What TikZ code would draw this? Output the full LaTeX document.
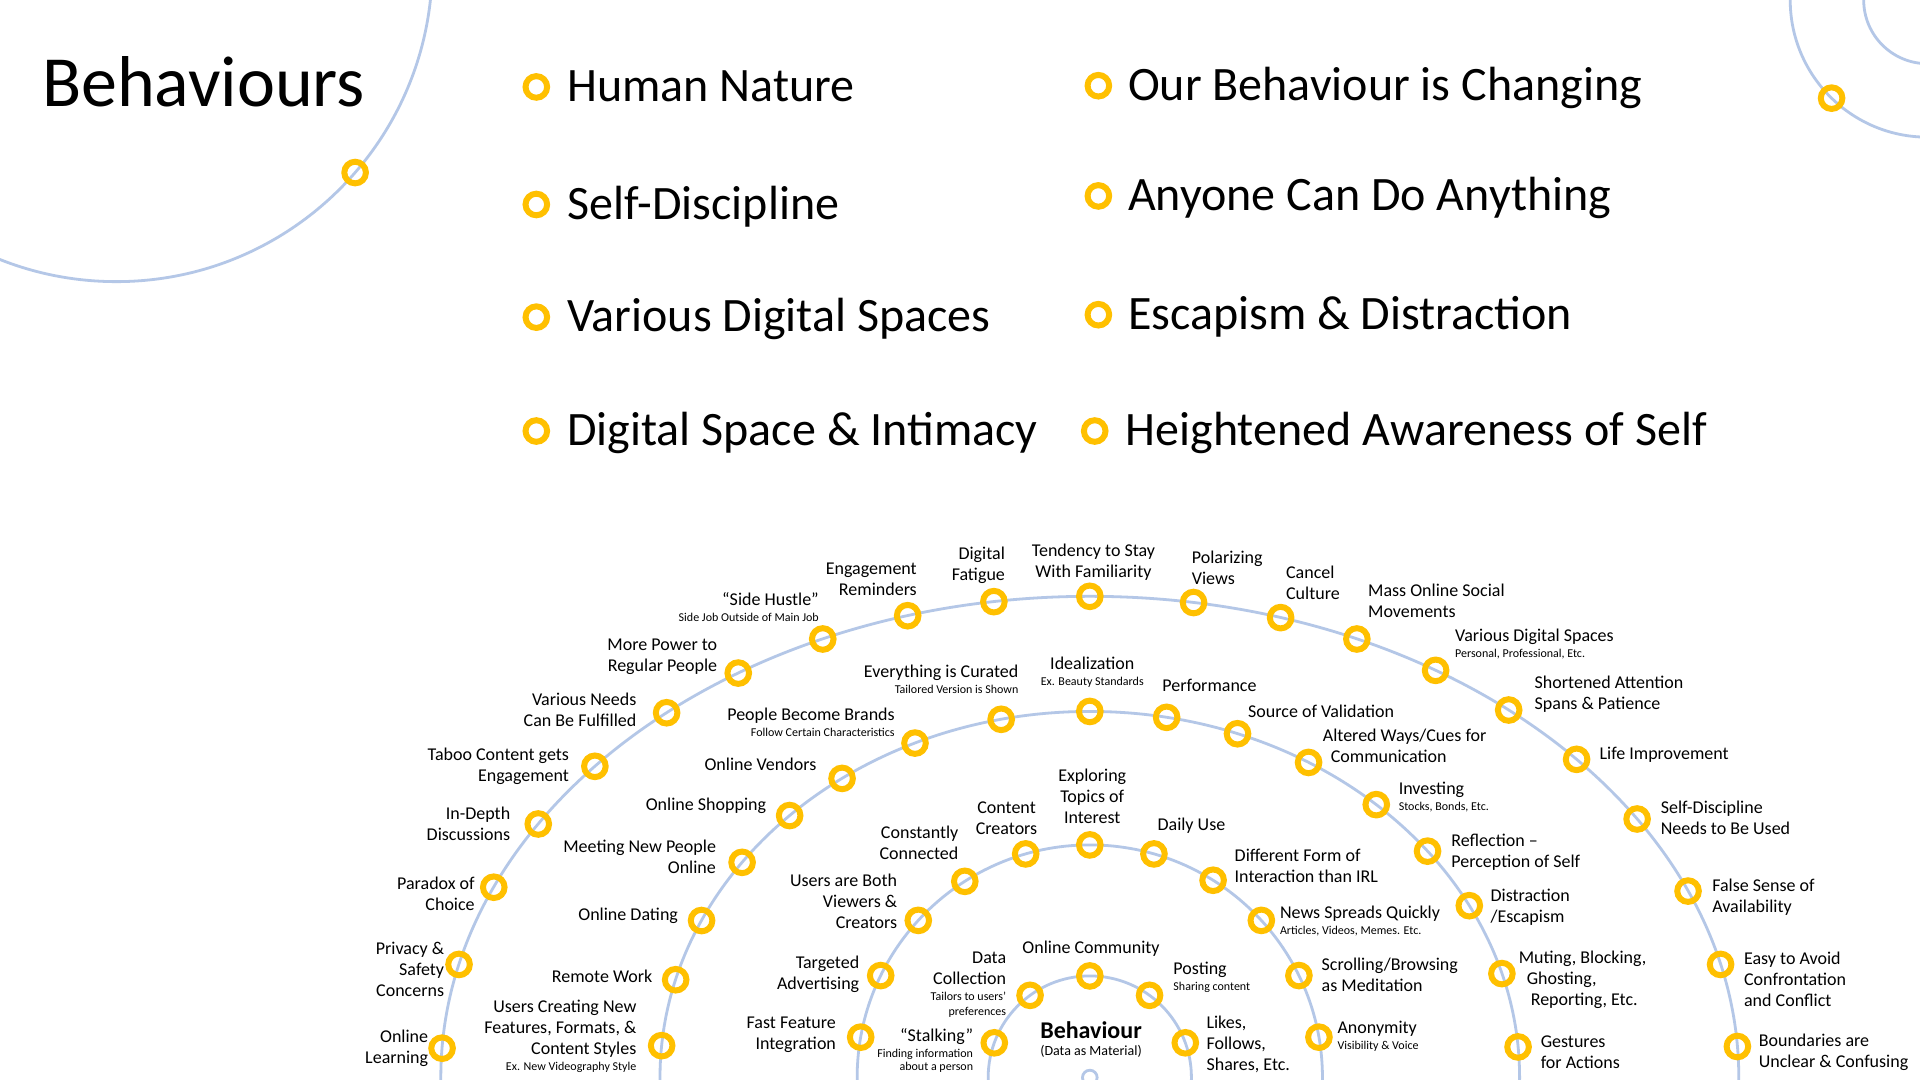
\documentclass[tikz,border=0pt]{standalone}
\usepackage{fontspec}
\setmainfont{Carlito}
\definecolor{gold}{HTML}{FFC000}
\definecolor{ringblue}{HTML}{B4C7E7}
\newcommand\labfont{\fontsize{9}{10.5}\selectfont}
\newcommand\subfont{\fontsize{6}{7}\selectfont}
\begin{document}
\begin{tikzpicture}[x=0.61224pt, y=0.61224pt,
  mk/.style={circle, draw=gold, line width=3pt, minimum size=10.8pt, inner sep=0pt},
  ring/.style={draw=ringblue, line width=1.4pt},
  lab/.style={font=\labfont, inner sep=0pt},
  labr/.style={lab, align=right},
  labl/.style={lab, align=left},
  labc/.style={lab, align=center},
  bullettext/.style={font=\fontsize{24}{29}\selectfont, inner sep=0pt, anchor=base west},
]
\clip (0,0) rectangle (1568,-882);
\fill[white] (0,0) rectangle (1568,-882);

% corner decorations
\coordinate (TL) at (95,28);
\draw[ring] (TL) circle [radius=258];
\path (TL) ++(-40.9:258) node[mk] (dl) {};
\coordinate (TR) at (1574,0);
\draw[ring] (TR) circle [radius=112];
\draw[ring] (TR) circle [radius=52];
\path (TR) ++(225.7:112) node[mk] (dr) {};

% title
\node[font=\fontsize{36}{43}\selectfont, inner sep=0pt, anchor=base west] (title) at (34,-87) {Behaviours};

% bullet list
\node[mk] (b1) at (438,-71) {};  \node[bullettext] (t1) at (463,-83)  {Human Nature};
\node[mk] (b2) at (438,-167) {}; \node[bullettext] (t2) at (463,-179) {Self-Discipline};
\node[mk] (b3) at (438,-259) {}; \node[bullettext] (t3) at (463,-271) {Various Digital Spaces};
\node[mk] (b4) at (438,-352) {}; \node[bullettext] (t4) at (463,-364) {Digital Space \& Intimacy};
\node[mk] (b5) at (897,-70) {};  \node[bullettext] (t5) at (921,-82)  {Our Behaviour is Changing};
\node[mk] (b6) at (897,-160) {}; \node[bullettext] (t6) at (921,-172) {Anyone Can Do Anything};
\node[mk] (b7) at (897,-257) {}; \node[bullettext] (t7) at (921,-269) {Escapism \& Distraction};
\node[mk] (b8) at (894,-352) {}; \node[bullettext] (t8) at (919,-364) {Heightened Awareness of Self};

% concentric rings
\coordinate (C) at (890,-880);
\draw[ring] (C) circle [radius=83];
\draw[ring] (C) circle [radius=190];
\draw[ring] (C) ellipse [x radius=351, y radius=299];
\draw[ring] (C) ellipse [x radius=530, y radius=393];
\draw[ring] (C) circle [radius=6];

% markers on the rings
\foreach \a [count=\i] in {176.5,166.4,156.7,148.2,139.7,130.7,122.8,114.3,106.3,98.5,90,80.8,72.9,65.7,57.8,49.8,41.4,32.5,22.8,13.6,3.7}
  \path (C) ++(\a:530 and 393) node[mk] (d\i) {};
\foreach \a [count=\i] in {175,164.5,154.6,144,134.3,125.2,114,101.9,90,79.7,69.9,59.4,48.2,38.2,28,16.5,4.8}
  \path (C) ++(\a:351 and 299) node[mk] (c\i) {};
\foreach \a [count=\i] in {170,154,137.5,122.5,106,90,74,58,42.5,26,10}
  \path (C) ++(\a:190) node[mk] (b\i) {};
\foreach \a [count=\i] in {160,126,90,54,20}
  \path (C) ++(\a:83) node[mk] (a\i) {};

% centre
\node[font=\bfseries\fontsize{12}{14}\selectfont, inner sep=0pt] (core) at (891,-841) {Behaviour};
\node[font=\fontsize{7}{8}\selectfont, inner sep=0pt] (coresub) at (891,-859) {(Data as Material)};

% ring 1 labels
\node[labr, anchor=east] (la1) at (795,-858) {“Stalking”\\[-2.5pt]{\subfont Finding information}\\[-3.7pt]{\subfont about a person}};
\node[labr, anchor=east] (la2) at (822,-804) {Data\\Collection\\[-2.5pt]{\subfont Tailors to users’}\\[-3.2pt]{\subfont preferences}};
\node[labc, anchor=south] (la3) at (891,-781) {Online Community};
\node[labl, anchor=west] (la4) at (958,-798) {Posting\\[-2.5pt]{\subfont Sharing content}};
\node[labl, anchor=west] (la5) at (985,-853) {Likes,\\Follows,\\Shares, Etc.};

% ring 2 labels
\node[labr, anchor=east] (lb1) at (683,-845) {Fast Feature\\Integration};
\node[labr, anchor=east] (lb2) at (702,-796) {Targeted\\Advertising};
\node[labr, anchor=east] (lb3) at (733,-736) {Users are Both\\Viewers \&\\Creators};
\node[labr, anchor=south east] (lb4) at (783,-702) {Constantly\\Connected};
\node[labc, anchor=south] (lb5) at (822,-682) {Content\\Creators};
\node[labc, anchor=south] (lb6) at (892,-673) {Exploring\\Topics of\\Interest};
\node[labl, anchor=south west] (lb7) at (945,-681) {Daily Use};
\node[labl, anchor=west] (lb8) at (1008,-707) {Different Form of\\Interaction than IRL};
\node[labl, anchor=west] (lb9) at (1045,-752) {News Spreads Quickly\\[-2.5pt]{\subfont Articles, Videos, Memes. Etc.}};
\node[labl, anchor=west] (lb10) at (1079,-796) {Scrolling/Browsing\\as Meditation};
\node[labl, anchor=west] (lb11) at (1092,-846) {Anonymity\\[-2.5pt]{\subfont Visibility \& Voice}};

% ring 3 labels
\node[labr, anchor=east] (lc1) at (520,-846) {Users Creating New\\Features, Formats, \&\\Content Styles\\[-2.5pt]{\subfont Ex. New Videography Style}};
\node[labr, anchor=east] (lc2) at (533,-797) {Remote Work};
\node[labr, anchor=east] (lc3) at (554,-748) {Online Dating};
\node[labr, anchor=east] (lc4) at (585,-700) {Meeting New People\\Online};
\node[labr, anchor=east] (lc5) at (626,-658) {Online Shopping};
\node[labr, anchor=east] (lc6) at (667,-624) {Online Vendors};
\node[labr, anchor=south east] (lc7) at (731,-602) {People Become Brands\\[-2.5pt]{\subfont Follow Certain Characteristics}};
\node[labr, anchor=south east] (lc8) at (832,-567) {Everything is Curated\\[-2.5pt]{\subfont Tailored Version is Shown}};
\node[labc, anchor=south] (lc9) at (892,-562) {Idealization\\[-2.5pt]{\subfont Ex. Beauty Standards}};
\node[labl, anchor=south west] (lc10) at (949,-565) {Performance};
\node[labl, anchor=south west] (lc11) at (1019,-586) {Source of Validation};
\node[labl, anchor=west] (lc12) at (1080,-609) {Altered Ways/Cues for\\\hspace*{4pt}Communication};
\node[labl, anchor=west] (lc13) at (1142,-651) {Investing\\[-2.5pt]{\subfont Stocks, Bonds, Etc.}};
\node[labl, anchor=west] (lc14) at (1185,-696) {Reflection –\\Perception of Self};
\node[labl, anchor=west] (lc15) at (1217,-741) {Distraction\\/Escapism};
\node[labl, anchor=west] (lc16) at (1240,-800) {Muting, Blocking,\\\hspace*{4pt}Ghosting,\\\hspace*{6pt}Reporting, Etc.};
\node[labl, anchor=west] (lc17) at (1258,-859) {Gestures\\for Actions};

% ring 4 labels
\node[labr, anchor=east] (ld1) at (350,-856) {Online\\Learning};
\node[labr, anchor=east] (ld2) at (363,-792) {Privacy \&\\Safety\\Concerns};
\node[labr, anchor=east] (ld3) at (388,-730) {Paradox of\\Choice};
\node[labr, anchor=east] (ld4) at (417,-673) {In-Depth\\Discussions};
\node[labr, anchor=east] (ld5) at (465,-626) {Taboo Content gets\\Engagement};
\node[labr, anchor=east] (ld6) at (520,-580) {Various Needs\\Can Be Fulfilled};
\node[labr, anchor=east] (ld7) at (586,-536) {More Power to\\Regular People};
\node[labr, anchor=south east] (ld8) at (669,-508) {“Side Hustle”\\[-2.5pt]{\subfont Side Job Outside of Main Job}};
\node[labr, anchor=south east] (ld9) at (749,-487) {Engagement\\Reminders};
\node[labr, anchor=south east] (ld10) at (821,-477) {Digital\\Fatigue};
\node[labc, anchor=south] (ld11) at (893,-474) {Tendency to Stay\\With Familiarity};
\node[labl, anchor=south west] (ld12) at (973,-478) {Polarizing\\Views};
\node[labl, anchor=south west] (ld13) at (1050,-490) {Cancel\\Culture};
\node[labl, anchor=south west] (ld14) at (1117,-505) {Mass Online Social\\Movements};
\node[labl, anchor=west] (ld15) at (1188,-526) {Various Digital Spaces\\[-2.5pt]{\subfont Personal, Professional, Etc.}};
\node[labl, anchor=west] (ld16) at (1253,-567) {Shortened Attention\\Spans \& Patience};
\node[labl, anchor=west] (ld17) at (1306,-616) {Life Improvement};
\node[labl, anchor=west] (ld18) at (1356,-668) {Self-Discipline\\Needs to Be Used};
\node[labl, anchor=west] (ld19) at (1398,-733) {False Sense of\\Availability};
\node[labl, anchor=west] (ld20) at (1424,-800) {Easy to Avoid\\Confrontation\\and Conflict};
\node[labl, anchor=west] (ld21) at (1436,-859) {Boundaries are\\Unclear \& Confusing};
\end{tikzpicture}
\end{document}
